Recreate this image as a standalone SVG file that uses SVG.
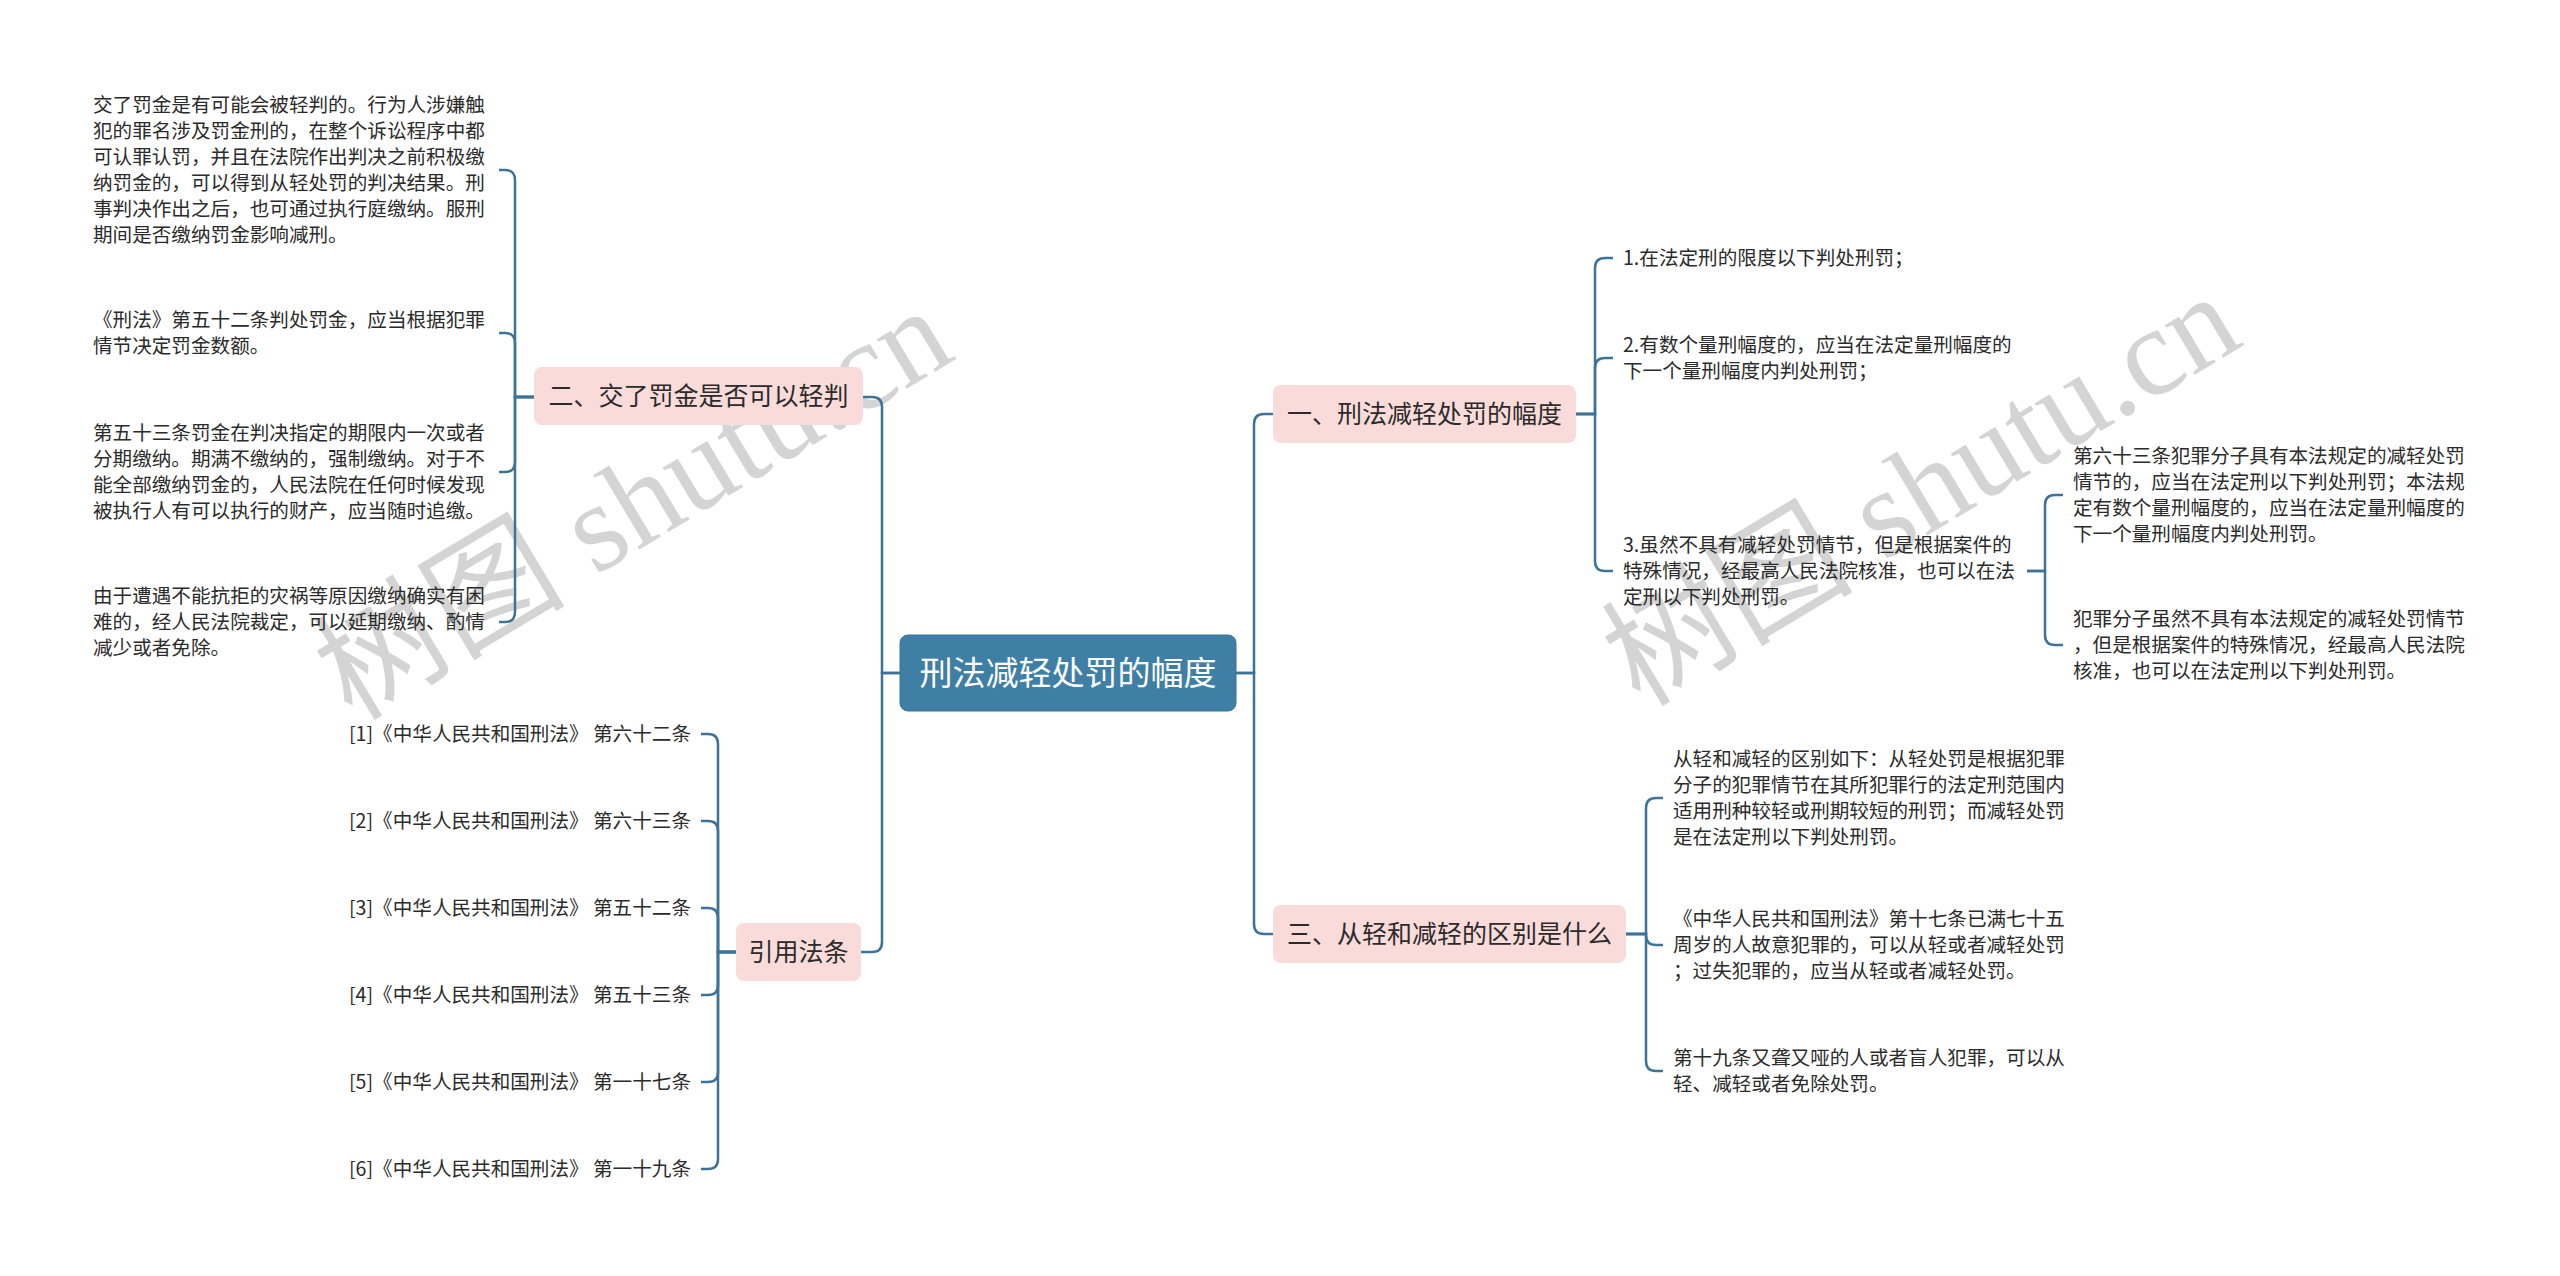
<svg xmlns="http://www.w3.org/2000/svg" width="2560" height="1276" viewBox="0 0 2560 1276">
<style>
.wm{font-family:"Liberation Serif","Noto Sans CJK SC",serif;font-size:126px;fill:#c9c9c9;fill-opacity:0.8}
.leaf{font-family:"Noto Sans CJK SC","Microsoft YaHei",sans-serif;font-size:19.6px;fill:#2b2b2b}
.br{font-family:"Noto Sans CJK SC","Microsoft YaHei",sans-serif;font-size:25px;fill:#2b2b2b;text-anchor:middle}
.root{font-family:"Noto Sans CJK SC","Microsoft YaHei",sans-serif;font-size:33px;fill:#ffffff;text-anchor:middle}
.pink{fill:#f9dcda}
.conn path{fill:none;stroke:#3c7399;stroke-width:2.5}
</style>
<rect width="2560" height="1276" fill="#ffffff"/>
<g id="watermarks">
<text class="wm" transform="translate(352,722) rotate(-31)">树图 shutu.cn</text>
<text class="wm" transform="translate(1640,708) rotate(-31)">树图 shutu.cn</text>
</g>
<g id="connectors" class="conn">
<path d="M900,673 H882 V407 Q882,397 872,397 H863"/>
<path d="M900,673 H882 V942 Q882,952 872,952 H861"/>
<path d="M1236,673 H1254 V424 Q1254,414 1264,414 H1273"/>
<path d="M1236,673 H1254 V924 Q1254,934 1264,934 H1273"/>
<path d="M534,397 H515 V180 Q515,170 505,170 H499"/>
<path d="M534,397 H515 V343 Q515,333 505,333 H499"/>
<path d="M534,397 H515 V462 Q515,472 505,472 H499"/>
<path d="M534,397 H515 V612 Q515,622 505,622 H499"/>
<path d="M737,952 H718 V744 Q718,734 708,734 H701"/>
<path d="M737,952 H718 V831 Q718,821 708,821 H701"/>
<path d="M737,952 H718 V918 Q718,908 708,908 H701"/>
<path d="M737,952 H718 V985 Q718,995 708,995 H701"/>
<path d="M737,952 H718 V1072 Q718,1082 708,1082 H701"/>
<path d="M737,952 H718 V1159 Q718,1169 708,1169 H701"/>
<path d="M1576,414 H1595 V268 Q1595,258 1605,258 H1613"/>
<path d="M1576,414 H1595 V368 Q1595,358 1605,358 H1613"/>
<path d="M1576,414 H1595 V561 Q1595,571 1605,571 H1613"/>
<path d="M2027,571 H2045 V505 Q2045,495 2055,495 H2063"/>
<path d="M2027,571 H2045 V635 Q2045,645 2055,645 H2063"/>
<path d="M1626,934 H1646 V808 Q1646,798 1656,798 H1663"/>
<path d="M1626,934 H1646 V935 Q1646,945 1656,945 H1663"/>
<path d="M1626,934 H1646 V1061 Q1646,1071 1656,1071 H1663"/>
</g>
<g id="root">
<rect x="900" y="635" width="336" height="76" rx="8" fill="#3f7fa5" stroke="#3a7498" stroke-width="1"/>
<text class="root" x="1068" y="685">刑法减轻处罚的幅度</text>
</g>
<g id="branch-2">
<rect class="pink" x="534" y="367" width="329" height="58" rx="8"/>
<text class="br" x="698.5" y="405">二、交了罚金是否可以轻判</text>
</g>
<g id="branch-ref">
<rect class="pink" x="736" y="923" width="125" height="58" rx="8"/>
<text class="br" x="798.5" y="961">引用法条</text>
</g>
<g id="branch-1">
<rect class="pink" x="1273" y="385" width="303" height="58" rx="8"/>
<text class="br" x="1424.5" y="423">一、刑法减轻处罚的幅度</text>
</g>
<g id="branch-3">
<rect class="pink" x="1273" y="905" width="353" height="58" rx="8"/>
<text class="br" x="1449.5" y="943">三、从轻和减轻的区别是什么</text>
</g>
<g id="leaf-2-1"><text class="leaf" x="93" y="112"><tspan x="93">交了罚金是有可能会被轻判的。行为人涉嫌触</tspan><tspan x="93" dy="26">犯的罪名涉及罚金刑的，在整个诉讼程序中都</tspan><tspan x="93" dy="26">可认罪认罚，并且在法院作出判决之前积极缴</tspan><tspan x="93" dy="26">纳罚金的，可以得到从轻处罚的判决结果。刑</tspan><tspan x="93" dy="26">事判决作出之后，也可通过执行庭缴纳。服刑</tspan><tspan x="93" dy="26">期间是否缴纳罚金影响减刑。</tspan></text></g>
<g id="leaf-2-2"><text class="leaf" x="93" y="327"><tspan x="93">《刑法》第五十二条判处罚金，应当根据犯罪</tspan><tspan x="93" dy="26">情节决定罚金数额。</tspan></text></g>
<g id="leaf-2-3"><text class="leaf" x="93" y="440"><tspan x="93">第五十三条罚金在判决指定的期限内一次或者</tspan><tspan x="93" dy="26">分期缴纳。期满不缴纳的，强制缴纳。对于不</tspan><tspan x="93" dy="26">能全部缴纳罚金的，人民法院在任何时候发现</tspan><tspan x="93" dy="26">被执行人有可以执行的财产，应当随时追缴。</tspan></text></g>
<g id="leaf-2-4"><text class="leaf" x="93" y="603"><tspan x="93">由于遭遇不能抗拒的灾祸等原因缴纳确实有困</tspan><tspan x="93" dy="26">难的，经人民法院裁定，可以延期缴纳、酌情</tspan><tspan x="93" dy="26">减少或者免除。</tspan></text></g>
<g id="ref-1"><text class="leaf" x="691" y="741" text-anchor="end">[1]《中华人民共和国刑法》 第六十二条</text></g>
<g id="ref-2"><text class="leaf" x="691" y="828" text-anchor="end">[2]《中华人民共和国刑法》 第六十三条</text></g>
<g id="ref-3"><text class="leaf" x="691" y="915" text-anchor="end">[3]《中华人民共和国刑法》 第五十二条</text></g>
<g id="ref-4"><text class="leaf" x="691" y="1002" text-anchor="end">[4]《中华人民共和国刑法》 第五十三条</text></g>
<g id="ref-5"><text class="leaf" x="691" y="1089" text-anchor="end">[5]《中华人民共和国刑法》 第一十七条</text></g>
<g id="ref-6"><text class="leaf" x="691" y="1176" text-anchor="end">[6]《中华人民共和国刑法》 第一十九条</text></g>
<g id="leaf-1-1"><text class="leaf" x="1623" y="265">1.在法定刑的限度以下判处刑罚；</text></g>
<g id="leaf-1-2"><text class="leaf" x="1623" y="352"><tspan x="1623">2.有数个量刑幅度的，应当在法定量刑幅度的</tspan><tspan x="1623" dy="26">下一个量刑幅度内判处刑罚；</tspan></text></g>
<g id="leaf-1-3"><text class="leaf" x="1623" y="552"><tspan x="1623">3.虽然不具有减轻处罚情节，但是根据案件的</tspan><tspan x="1623" dy="26">特殊情况，经最高人民法院核准，也可以在法</tspan><tspan x="1623" dy="26">定刑以下判处刑罚。</tspan></text></g>
<g id="leaf-1-3-1"><text class="leaf" x="2073" y="463"><tspan x="2073">第六十三条犯罪分子具有本法规定的减轻处罚</tspan><tspan x="2073" dy="26">情节的，应当在法定刑以下判处刑罚；本法规</tspan><tspan x="2073" dy="26">定有数个量刑幅度的，应当在法定量刑幅度的</tspan><tspan x="2073" dy="26">下一个量刑幅度内判处刑罚。</tspan></text></g>
<g id="leaf-1-3-2"><text class="leaf" x="2073" y="626"><tspan x="2073">犯罪分子虽然不具有本法规定的减轻处罚情节</tspan><tspan x="2073" dy="26">，但是根据案件的特殊情况，经最高人民法院</tspan><tspan x="2073" dy="26">核准，也可以在法定刑以下判处刑罚。</tspan></text></g>
<g id="leaf-3-1"><text class="leaf" x="1673" y="766"><tspan x="1673">从轻和减轻的区别如下：从轻处罚是根据犯罪</tspan><tspan x="1673" dy="26">分子的犯罪情节在其所犯罪行的法定刑范围内</tspan><tspan x="1673" dy="26">适用刑种较轻或刑期较短的刑罚；而减轻处罚</tspan><tspan x="1673" dy="26">是在法定刑以下判处刑罚。</tspan></text></g>
<g id="leaf-3-2"><text class="leaf" x="1673" y="926"><tspan x="1673">《中华人民共和国刑法》第十七条已满七十五</tspan><tspan x="1673" dy="26">周岁的人故意犯罪的，可以从轻或者减轻处罚</tspan><tspan x="1673" dy="26">；过失犯罪的，应当从轻或者减轻处罚。</tspan></text></g>
<g id="leaf-3-3"><text class="leaf" x="1673" y="1065"><tspan x="1673">第十九条又聋又哑的人或者盲人犯罪，可以从</tspan><tspan x="1673" dy="26">轻、减轻或者免除处罚。</tspan></text></g>
</svg>
